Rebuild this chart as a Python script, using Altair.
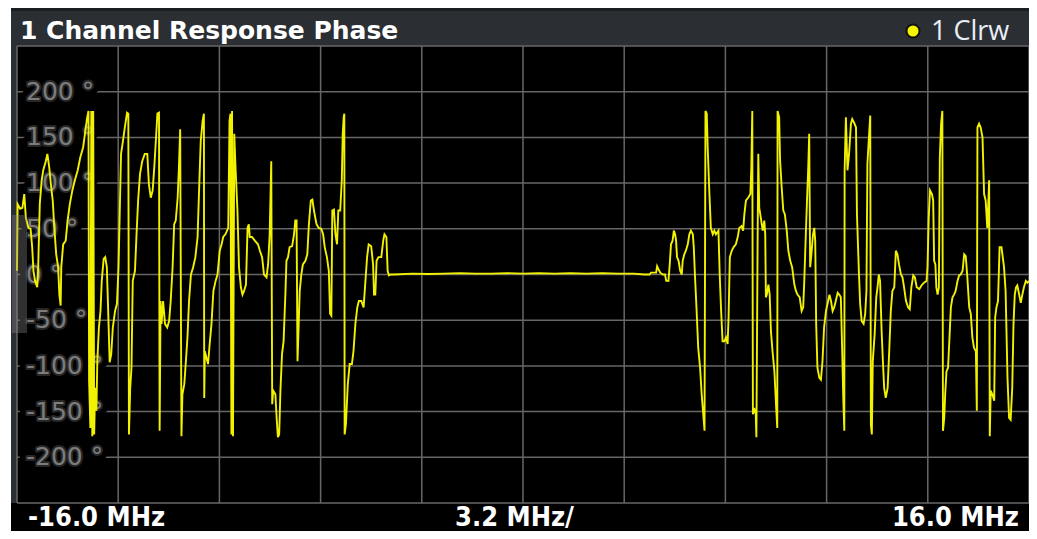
import altair as alt
import pandas as pd

# ---------------- trace data (frequency in MHz, phase in degrees) ----------------
freq_seg1 = [-16.00, -15.98, -15.90, -15.83, -15.77, -15.72, -15.64, -15.57, -15.52, -15.48,
             -15.43, -15.36, -15.33, -15.28, -15.22, -15.17, -15.09, -15.04, -14.98, -14.93,
             -14.87, -14.82, -14.76, -14.70, -14.66, -14.62, -14.60, -14.54, -14.46, -14.40,
             -14.33, -14.25, -14.17, -14.08, -14.00, -13.91, -13.85, -13.79, -13.74, -13.72,
             -13.68, -13.65, -13.62, -13.59, -13.56, -13.53, -13.49, -13.46, -13.41, -13.36,
             -13.32, -13.26, -13.21, -13.16, -13.12, -13.07, -13.02, -12.97, -12.90, -12.84,
             -12.79, -12.75, -12.71, -12.65, -12.59, -12.52, -12.48, -12.46, -12.42, -12.38,
             -12.34]
phase_seg1 = [4, 77, 72, 73, 88, 62, 51, 50, 30, 4,
              -7, -14, 8, 77, 103, 114, 124, 132, 117, 99,
              81, 51, 22, 8, -22, -34, 8, 33, 37, 59,
              77, 92, 103, 114, 128, 139, 154, 170, 179, -116,
              -168, 179, -177, 179, -175, -124, -149, -95, -58, -40,
              -7, 17, 19, 8, -36, -96, -87, -58, -40, -32,
              8, 70, 132, 146, 161, 177, 176, -175, -124, -102,
              -7]

freq_seg2 = [-12.27, -12.22, -12.17, -12.11, -12.04, -11.96, -11.88, -11.83, -11.77, -11.71,
             -11.66, -11.61, -11.56, -11.51, -11.49, -11.46, -11.43, -11.38, -11.32, -11.25,
             -11.19, -11.14, -11.08, -11.03, -10.98, -10.92, -10.88, -10.84, -10.80, -10.77,
             -10.71, -10.66, -10.61, -10.56, -10.50, -10.43, -10.36, -10.29, -10.24, -10.19,
             -10.13, -10.09, -10.08, -10.06, -10.01, -9.96, -9.90, -9.85, -9.79, -9.72,
             -9.66, -9.59, -9.53, -9.48, -9.41, -9.32, -9.28, -9.25, -9.22, -9.20,
             -9.17, -9.13, -9.09, -9.03, -8.98, -8.92, -8.87, -8.82, -8.76, -8.71,
             -8.67, -8.64, -8.57]
phase_seg2 = [4, 44, 81, 110, 124, 132, 132, 99, 84, 92,
              117, 146, 176, 177, -171, -29, -54, -29, -54, -58,
              -51, -29, 8, 55, 59, 84, 117, 159, -177, -131,
              -120, -95, -69, -29, 0, 8, 19, 41, 95, 146,
              168, 176, -135, -84, -91, -98, -73, -54, -18, -7,
              0, 26, 33, 41, 44, 51, 168, 176, -175, 179,
              -177, 154, 117, 70, 8, -14, -22, -18, -11, 51,
              55, 41, 41]

freq_seg3 = [-8.48, -8.38, -8.32, -8.25, -8.19, -8.11, -8.06, -8.01, -7.96, -7.93,
             -7.90, -7.83, -7.79, -7.75, -7.71, -7.67, -7.62, -7.57, -7.51, -7.48,
             -7.43, -7.38, -7.30, -7.24, -7.20, -7.16, -7.13, -7.10, -7.06, -7.01,
             -6.96, -6.88, -6.82, -6.77, -6.71, -6.66, -6.61, -6.53, -6.46, -6.38,
             -6.32, -6.27, -6.20, -6.14, -6.10, -6.06, -6.03, -5.98, -5.93, -5.88,
             -5.84, -5.78, -5.73, -5.70, -5.67, -5.65, -5.64, -5.60, -5.54, -5.48,
             -5.41, -5.36, -5.30, -5.24, -5.19, -5.11, -5.04, -4.99, -4.93, -4.88,
             -4.80, -4.74, -4.71, -4.67, -4.63, -4.57, -4.48, -4.42, -4.38, -4.32,
             -4.28, -4.24, -4.19, -4.06]
phase_seg3 = [37, 33, 26, 19, 0, -3, 11, 44, 124, -142,
              -127, -131, -157, -178, -175, -127, -87, -73, -18, 15,
              19, 30, 31, 44, 59, 59, -95, -62, -18, 0,
              11, 15, 22, 55, 81, 82, 70, 55, 51, 50,
              44, 30, 19, 4, -43, -45, 70, 71, 44, 33,
              70, 70, 103, 154, 172, 176, -175, -164, -120, -98,
              -98, -84, -54, -36, -29, -29, -36, -11, 19, 33,
              31, 11, -22, -22, 15, 19, 19, 37, 44, 41,
              4, -1, 0, 0]

freq_flat = [-3.5, -3.0, -2.5, -2.0, -1.5, -1.0, -0.5, 0.0, 0.5, 1.0, 1.5, 2.0, 2.5, 3.0, 3.5]
phase_flat = [1, 0.5, 1, 1.5, 1, 1, 1.5, 1, 1.5, 1, 1.5, 1, 1.5, 1, 1]

freq_seg4 = [3.84, 4.00, 4.05, 4.21, 4.24, 4.28, 4.34, 4.42, 4.49, 4.53,
             4.60, 4.64, 4.68, 4.73, 4.77, 4.81, 4.84, 4.87, 4.92, 4.97,
             5.02, 5.05, 5.10, 5.15, 5.21, 5.26, 5.31, 5.37, 5.40, 5.44,
             5.49, 5.54, 5.60, 5.65, 5.70, 5.74, 5.77, 5.81, 5.84, 5.89,
             5.94, 6.00, 6.05, 6.10, 6.18, 6.22, 6.26, 6.31, 6.37, 6.42,
             6.47, 6.50, 6.54, 6.60, 6.66, 6.73, 6.79, 6.84, 6.91, 6.96,
             7.00, 7.05, 7.12, 7.19, 7.22, 7.25, 7.27, 7.31, 7.36, 7.38,
             7.42, 7.44, 7.47, 7.52, 7.58]
phase_seg4 = [0, 0, 2, 2, 9, 6, 2, 0, 0, -7,
              -7, 11, 33, 37, 48, 44, 37, 19, 15, 4,
              0, 15, 22, 26, 33, 44, 48, 44, 30, -3,
              -40, -80, -102, -131, -153, -171, 179, 176, 139, 92,
              51, 44, 48, 44, 48, 0, -36, -73, -73, -69,
              -76, -47, 19, 26, 30, 33, 41, 51, 53, 48,
              66, 81, 84, 88, 117, 179, -153, -146, -153, -178,
              44, 132, 73, 62, 48]

freq_seg5 = [7.63, 7.66, 7.68, 7.71, 7.76, 7.80, 7.84, 7.89, 7.95, 8.00,
             8.04, 8.05, 8.10, 8.13, 8.18, 8.23, 8.28, 8.34, 8.39, 8.45,
             8.51, 8.58, 8.63, 8.68, 8.75, 8.81, 8.86, 8.89, 8.94, 8.98,
             9.02, 9.05, 9.08, 9.12, 9.17, 9.21, 9.24, 9.27, 9.31, 9.37,
             9.42, 9.47, 9.52, 9.58, 9.63, 9.69, 9.74, 9.79, 9.84, 9.89,
             9.95, 10.00, 10.05, 10.08, 10.13, 10.16, 10.17, 10.21, 10.26, 10.31,
             10.37, 10.41, 10.47, 10.53, 10.56, 10.62, 10.66, 10.71, 10.77, 10.82,
             10.86, 10.89, 10.95, 10.98, 11.00, 11.03, 11.06, 11.12, 11.17, 11.21,
             11.25, 11.29, 11.34, 11.38, 11.42, 11.47, 11.53, 11.58, 11.63, 11.68]
phase_seg5 = [59, 44, -25, -22, -11, -22, -62, -84, -106, -142,
              -168, 179, 172, 124, 95, 70, 66, 48, 26, 15,
              8, -11, -18, -22, -25, -40, -36, -11, 41, 81,
              117, 154, 8, 22, 44, 51, 37, -54, -102, -113,
              -115, -95, -58, -40, -32, -22, -29, -40, -36, -29,
              -20, -22, -25, -65, -138, -171, 114, 172, 114, 132,
              165, 170, 166, 161, 66, 4, -32, -51, -54, -43,
              -18, 121, 157, 174, -164, -175, -95, -65, -25, -14,
              0, -7, -62, -95, -124, -135, -124, -84, -40, -18]

freq_seg6 = [11.74, 11.79, 11.84, 11.89, 11.95, 12.00, 12.05, 12.11, 12.18, 12.23,
             12.28, 12.34, 12.39, 12.45, 12.53, 12.60, 12.68, 12.76, 12.79, 12.83,
             12.87, 12.93, 12.97, 13.00, 13.04, 13.07, 13.11, 13.15, 13.18, 13.22,
             13.26, 13.28, 13.32, 13.35, 13.39, 13.44, 13.48, 13.53, 13.58, 13.63,
             13.68, 13.74, 13.79, 13.84, 13.90, 13.95, 14.00, 14.05, 14.11, 14.16,
             14.21, 14.26, 14.32, 14.35, 14.37, 14.42, 14.47, 14.53, 14.58, 14.63,
             14.68, 14.72, 14.74, 14.76, 14.79, 14.84, 14.90, 14.93, 14.97, 15.02,
             15.07, 15.13, 15.17, 15.21, 15.26, 15.32, 15.37, 15.42, 15.47, 15.51,
             15.55, 15.59, 15.63, 15.69, 15.74, 15.79, 15.84, 15.90, 15.95, 16.00]
phase_seg6 = [-14, 26, 22, 11, 0, -3, -14, -29, -36, -38,
              -14, -1, -3, -14, -16, -12, -9, -7, 8, 62,
              92, 88, 81, 15, 11, -14, -22, -14, 128, 165,
              179, -171, -157, -131, -106, -102, -73, -36, -25, -22,
              -18, -7, -1, 0, 4, 22, 20, -3, -36, -43,
              -69, -80, -84, -149, 161, 165, 161, 150, 88, 81,
              51, 84, 103, -177, -127, -131, -138, -47, -36, -29,
              30, 30, 19, 8, -18, -113, -157, -159, -124, -54,
              -22, -14, -12, -22, -31, -22, -14, -7, -9, -7]

# ---------------- axis / grid data ----------------
x_grid = [-16.0, -12.8, -9.6, -6.4, -3.2, 0.0, 3.2, 6.4, 9.6, 12.8, 16.0]
y_grid = [-250, -200, -150, -100, -50, 0, 50, 100, 150, 200, 250]
y_label_vals = [200, 150, 100, 50, 0, -50, -100, -150, -200]
y_label_text = ["200 °", "150 °", "100 °", "50 °", "0 °", "-50 °", "-100 °", "-150 °", "-200 °"]
title_text = "1 Channel Response Phase"
legend_text = "1 Clrw"
x_left_label = "-16.0 MHz"
x_mid_label = "3.2 MHz/"
x_right_label = "16.0 MHz"

segs = [(freq_seg1, phase_seg1), (freq_seg2, phase_seg2), (freq_seg3, phase_seg3),
        (freq_flat, phase_flat), (freq_seg4, phase_seg4), (freq_seg5, phase_seg5),
        (freq_seg6, phase_seg6)]
freq, phase = [], []
for f, p in segs:
    assert len(f) == len(p), (len(f), len(p))
    freq += f
    phase += p
trace = pd.DataFrame({"freq": freq, "phase": phase, "idx": list(range(len(freq)))})

W, H = 1012, 457
xs = alt.Scale(domain=[-16, 16], nice=False, zero=False)
ys = alt.Scale(domain=[-250, 250], nice=False, zero=False)
one = pd.DataFrame({"k": [0]})

frame = alt.Chart(one).mark_rect(color="#2b2f34").encode(
    x=alt.value(-6), x2=alt.value(W + 20), y=alt.value(-38), y2=alt.value(H))
topline = alt.Chart(one).mark_rect(color="#1b1e21").encode(
    x=alt.value(-6), x2=alt.value(W + 20), y=alt.value(-38), y2=alt.value(-35))
bottom = alt.Chart(one).mark_rect(color="#000000").encode(
    x=alt.value(-6), x2=alt.value(W + 20), y=alt.value(H), y2=alt.value(H + 40))
plotbg = alt.Chart(one).mark_rect(color="#000000").encode(
    x=alt.value(0), x2=alt.value(W), y=alt.value(0), y2=alt.value(H))

grid_col = "#676767"
vgrid = alt.Chart(pd.DataFrame({"f": x_grid})).mark_rule(color=grid_col, strokeWidth=1.5).encode(
    x=alt.X("f:Q", scale=xs, axis=None), y=alt.value(0), y2=alt.value(H))
hgrid = alt.Chart(pd.DataFrame({"p": y_grid})).mark_rule(color=grid_col, strokeWidth=1.5).encode(
    y=alt.Y("p:Q", scale=ys, axis=None), x=alt.value(0), x2=alt.value(W))

lab_df = pd.DataFrame({"p": y_label_vals, "t": y_label_text})
lab_enc = dict(x=alt.value(9), y=alt.Y("p:Q", scale=ys, axis=None), text="t:N")
halo = alt.Chart(lab_df).mark_text(align="left", baseline="middle", font="DejaVu Sans", fontSize=25,
                                   fill="#000000", stroke="#000000", strokeWidth=15,
                                   strokeJoin="round").encode(**lab_enc)
glow = alt.Chart(lab_df).mark_text(align="left", baseline="middle", font="DejaVu Sans", fontSize=25,
                                   fill="#3a3a3a", stroke="#262626", strokeWidth=4,
                                   strokeJoin="round").encode(**lab_enc)
labels = alt.Chart(lab_df).mark_text(align="left", baseline="middle", font="DejaVu Sans", fontSize=25,
                                     color="#7c7c7c").encode(**lab_enc)

line = alt.Chart(trace).mark_line(color="#f2f200", strokeWidth=1.9).encode(
    x=alt.X("freq:Q", scale=xs, axis=None),
    y=alt.Y("phase:Q", scale=ys, axis=None),
    order="idx:Q")

widget = alt.Chart(one).mark_rect(color="#8a8a8a", opacity=0.35).encode(
    x=alt.value(-5), x2=alt.value(10), y=alt.value(169), y2=alt.value(287))

title = alt.Chart(one).mark_text(text=title_text, align="left", baseline="middle", font="DejaVu Sans",
                                 fontWeight="bold", fontSize=25, color="#ffffff").encode(
    x=alt.value(3), y=alt.value(-15))
dot = alt.Chart(one).mark_point(shape="circle", filled=True, size=170, fill="#f5f500",
                                stroke="#111111", strokeWidth=2, opacity=1).encode(
    x=alt.value(896), y=alt.value(-15))
legend = alt.Chart(one).mark_text(text=legend_text, align="left", baseline="middle", font="Open Sans",
                                  fontSize=27, color="#e8eef5").encode(x=alt.value(914), y=alt.value(-14))

bfont = dict(baseline="middle", font="DejaVu Sans Condensed, DejaVu Sans", fontWeight="bold",
             fontSize=27, color="#ffffff")
lbl_l = alt.Chart(one).mark_text(text=x_left_label, align="left", **bfont).encode(
    x=alt.value(11), y=alt.value(H + 15))
lbl_m = alt.Chart(one).mark_text(text=x_mid_label, align="left", **bfont).encode(
    x=alt.value(438), y=alt.value(H + 15))
lbl_r = alt.Chart(one).mark_text(text=x_right_label, align="right", **bfont).encode(
    x=alt.value(1002), y=alt.value(H + 15))

chart = alt.layer(
    frame, topline, bottom, plotbg, vgrid, hgrid, halo, glow, labels, line, widget,
    title, dot, legend, lbl_l, lbl_m, lbl_r
).properties(
    width=W, height=H,
    padding={"left": 9, "top": 38, "right": 0, "bottom": 28},
    autosize=alt.AutoSizeParams(type="none"),
    background="white",
).configure_view(stroke=None)

chart.save("out.html", embed_options={"renderer": "svg", "actions": False})
